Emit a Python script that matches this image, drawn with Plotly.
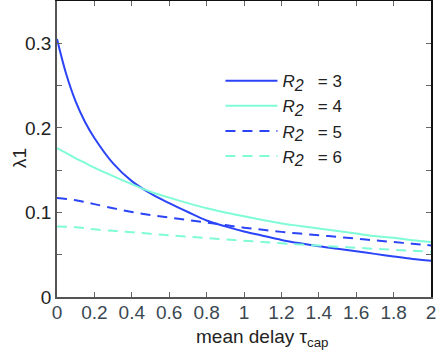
import plotly.graph_objects as go

# Données
tau = [0, 0.05, 0.1, 0.15, 0.2, 0.3, 0.4, 0.5, 0.6, 0.7, 0.8, 0.9, 1.0, 1.1, 1.2, 1.3,
       1.4, 1.5, 1.6, 1.7, 1.8, 1.9, 2.0]
lam_r3 = [0.305, 0.263, 0.231, 0.207, 0.188, 0.158, 0.137, 0.1225, 0.111, 0.1005, 0.0905,
          0.0835, 0.0775, 0.0725, 0.0675, 0.0635, 0.060, 0.057, 0.054, 0.051, 0.048, 0.045,
          0.043]
lam_r4 = [0.176, 0.170, 0.164, 0.1585, 0.153, 0.143, 0.1335, 0.1245, 0.1175, 0.111, 0.105,
          0.100, 0.0955, 0.091, 0.087, 0.084, 0.081, 0.078, 0.075, 0.072, 0.070, 0.067, 0.065]
lam_r5 = [0.117, 0.116, 0.1145, 0.1122, 0.1098, 0.105, 0.1005, 0.097, 0.094, 0.091, 0.088,
          0.085, 0.082, 0.0795, 0.077, 0.075, 0.073, 0.071, 0.069, 0.067, 0.065, 0.063, 0.061]
lam_r6 = [0.0835, 0.0831, 0.0826, 0.0813, 0.0800, 0.0782, 0.0765, 0.0747, 0.0730, 0.0713,
          0.0697, 0.0681, 0.0665, 0.0650, 0.0635, 0.0621, 0.0608, 0.0595, 0.0583, 0.0570,
          0.0558, 0.0546, 0.0535]

R_LABEL = "<i>R<sub><span style='font-size:16px'>2</span></sub></i>&nbsp;&nbsp; = "
series = [
    (R_LABEL + "3", lam_r3, "#2b44f7", "solid"),
    (R_LABEL + "4", lam_r4, "#7ffcd6", "solid"),
    (R_LABEL + "5", lam_r5, "#2b44f7", "10px,7px"),
    (R_LABEL + "6", lam_r6, "#7ffcd6", "10px,7px"),
]

FONT = "Liberation Sans, Arial, sans-serif"

fig = go.Figure()
for name, vals, col, dash in series:
    fig.add_trace(go.Scatter(
        x=tau, y=vals, name=name, mode="lines",
        line=dict(color=col, width=2, dash=dash, shape="spline", smoothing=1.0),
    ))

# axes haut/droite en noir
fig.add_trace(go.Scatter(x=[0], y=[0], xaxis="x2", yaxis="y2", showlegend=False,
                         mode="markers", marker=dict(opacity=0), hoverinfo="skip"))

fig.update_layout(
    width=436, height=359,
    margin=dict(l=57, r=5, t=1, b=62, autoexpand=False),
    paper_bgcolor="white", plot_bgcolor="white",
    font=dict(family=FONT, size=19, color="#222"),
    showlegend=True,
    legend=dict(x=0.437, y=0.79, xanchor="left", yanchor="top",
                bgcolor="rgba(0,0,0,0)", font=dict(size=17, color="#222"),
                tracegroupgap=0, itemwidth=52),
    xaxis=dict(range=[0, 2], tickvals=[0, 0.2, 0.4, 0.6, 0.8, 1, 1.2, 1.4, 1.6, 1.8, 2],
               ticktext=["0", "0.2", "0.4", "0.6", "0.8", "1", "1.2", "1.4", "1.6", "1.8", "2"],
               ticks="inside", ticklen=5, tickcolor="#666", showline=True,
               linecolor="#555", linewidth=1.5, showgrid=False, zeroline=False,
               automargin=False, ticklabelstandoff=-3, ticklabeloverflow="allow",
               tickfont=dict(size=19, color="#3b4852")),
    yaxis=dict(range=[0, 0.35], tickvals=[0, 0.05, 0.1, 0.15, 0.2, 0.25, 0.3],
               ticktext=["0", "", "0.1", "", "0.2", "", "0.3"],
               ticks="inside", ticklen=5, tickcolor="#666", showline=True,
               linecolor="#555", linewidth=1.5, showgrid=False, zeroline=False,
               automargin=False, tickfont=dict(size=19, color="#222")),
    xaxis2=dict(overlaying="x", side="top", matches="x", range=[0, 2],
                tickvals=[0.2, 0.4, 0.6, 0.8, 1, 1.2, 1.4, 1.6, 1.8],
                showticklabels=False, ticks="inside", ticklen=5, tickcolor="#666",
                showline=True, linecolor="#111", linewidth=1.5, showgrid=False,
                zeroline=False, automargin=False),
    yaxis2=dict(overlaying="y", side="right", matches="y", range=[0, 0.35],
                tickvals=[0.05, 0.1, 0.15, 0.2, 0.25, 0.3],
                showticklabels=False, ticks="inside", ticklen=5, tickcolor="#666",
                showline=True, linecolor="#111", linewidth=1.5, showgrid=False,
                zeroline=False, automargin=False),
    annotations=[
        dict(text="mean delay τ<sub>cap</sub>", xref="paper", yref="paper",
             x=0.548, y=0, yshift=-41, xanchor="center", yanchor="middle",
             showarrow=False, font=dict(size=19, color="#222")),
        dict(text="λ1", xref="paper", yref="paper", x=0, xshift=-37, y=0.47,
             xanchor="center", yanchor="middle", textangle=-90,
             showarrow=False, font=dict(size=19, color="#222")),
    ],
)

# marge du body à zéro pour caler la figure sur la fenêtre
fig.write_html("out.html", config={"displayModeBar": False},
               post_script="document.body.style.margin='0';")
